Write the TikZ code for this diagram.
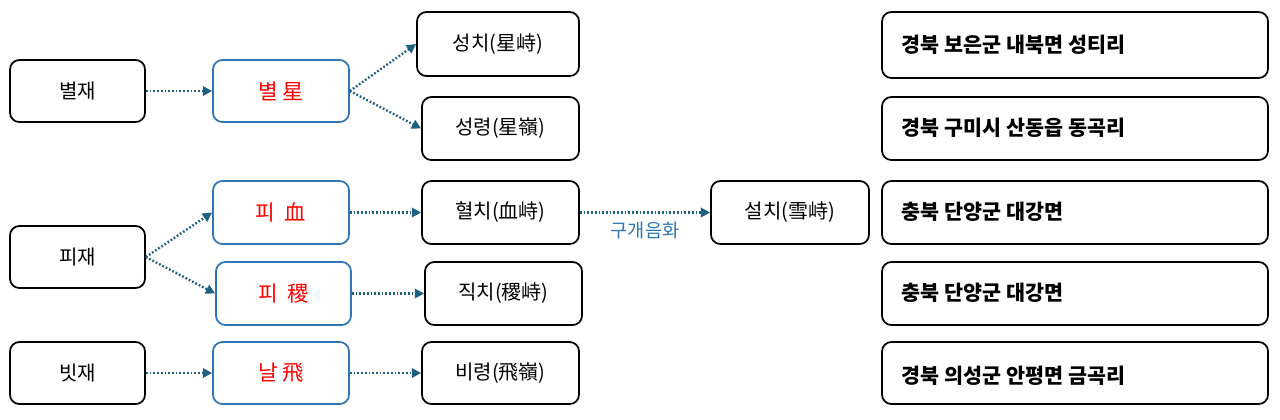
\documentclass[tikz,border=0pt]{standalone}
\usepackage{fontspec}
\setmainfont{Noto Sans CJK KR}
\usetikzlibrary{fit,arrows.meta}
\definecolor{lnk}{HTML}{1F5F80}
\definecolor{bb}{HTML}{2E75B6}
\tikzset{x=0.75pt,y=-0.75pt,
 bx/.style={draw=black,line width=1.3pt,rounded corners=7pt,inner sep=0pt},
 bl/.style={bx,draw=bb},
 t/.style={font=\fontsize{15}{18}\selectfont},
 tr/.style={text=red,font=\fontsize{16}{18}\selectfont},
 tw/.style={anchor=west,font=\fontsize{15.5}{18}\selectfont\bfseries},
 con/.style={draw=lnk,line width=1.8pt,dash pattern=on 1.3pt off 1.5pt,-{Triangle[length=7pt,width=7pt]}}}
\begin{document}
\begin{tikzpicture}
\useasboundingbox (0,0) rectangle (1280,419);
\node[bx,fit={(10,60)(145,122)}] (a1) {};\node[t] at (a1) {별재};
\node[bx,fit={(10,226)(145,288)}] (a2) {};\node[t] at (a2) {피재};
\node[bx,fit={(10,342)(145,404)}] (a3) {};\node[t] at (a3) {빗재};
\node[bl,fit={(213,60)(349,122)}] (b1) {};\node[tr] at (b1) {별 星};
\node[bl,fit={(213,181)(349,244)}] (b2) {};\node[tr] at (b2) {피\ \ 血};
\node[bl,fit={(216,262)(351,325)}] (b3) {};\node[tr] at (b3) {피\ \ 稷};
\node[bl,fit={(213,342)(349,404)}] (b4) {};\node[tr] at (b4) {날 飛};
\node[bx,fit={(417,12)(579,76)}] (c1) {};\node[t] at (c1) {성치(星峙)};
\node[bx,fit={(422,97)(579,160)}] (c2) {};\node[t] at (c2) {성령(星嶺)};
\node[bx,fit={(422,181)(579,244)}] (c3) {};\node[t] at (c3) {혈치(血峙)};
\node[bx,fit={(425,262)(582,325)}] (c4) {};\node[t] at (c4) {직치(稷峙)};
\node[bx,fit={(422,342)(579,404)}] (c5) {};\node[t] at (c5) {비령(飛嶺)};
\node[bx,fit={(711,181)(869,244)}] (d1) {};\node[t] at (d1) {설치(雪峙)};
\node[bx,fit={(882,12)(1268,78)}] (e1) {};\node[tw] at (897,45) {경북 보은군 내북면 성티리};
\node[bx,fit={(882,97)(1268,160)}] (e2) {};\node[tw] at (897,128) {경북 구미시 산동읍 동곡리};
\node[bx,fit={(882,181)(1268,244)}] (e3) {};\node[tw] at (897,212) {충북 단양군 대강면};
\node[bx,fit={(882,262)(1268,325)}] (e4) {};\node[tw] at (897,293) {충북 단양군 대강면};
\node[bx,fit={(882,342)(1268,404)}] (e5) {};\node[tw] at (897,376) {경북 의성군 안평면 금곡리};
\draw[con] (a1) -- (b1);
\draw[con] (a2.east) -- (b2.west);
\draw[con] (a2.east) -- (b3.west);
\draw[con] (a3) -- (b4);
\draw[con] (b1.east) -- (c1.west);
\draw[con] (b1.east) -- (c2.west);
\draw[con] (b2) -- (c3);
\draw[con] (b3) -- (c4);
\draw[con] (b4) -- (c5);
\draw[con] (c3) -- node[below=3pt,text=bb,font=\fontsize{14}{16}\selectfont]{구개음화} (d1);
\end{tikzpicture}
\end{document}
